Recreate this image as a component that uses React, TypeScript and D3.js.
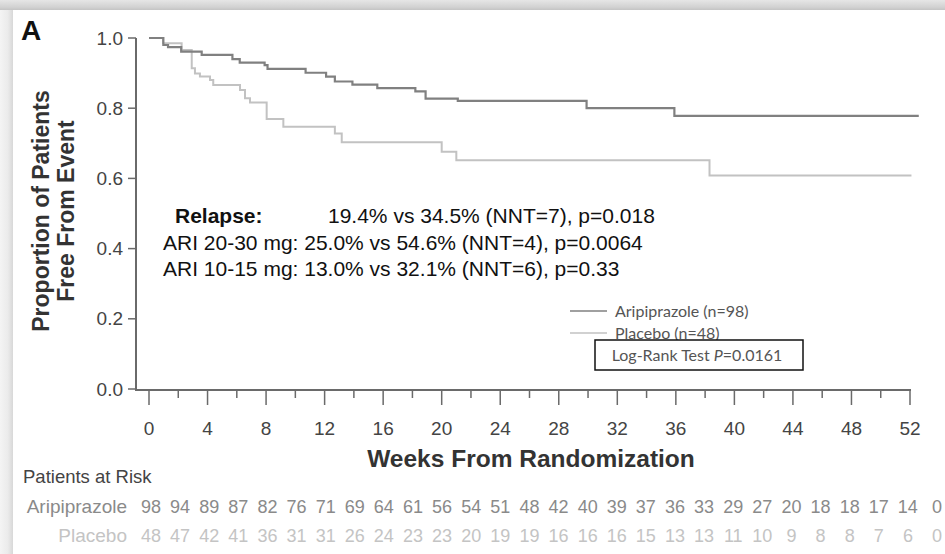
import React from "react";
import * as d3 from "d3";

const ariTimes = [0, 0.98, 1.3, 2.2, 3.6, 5.7, 6.2, 7.9, 8.1, 10.7, 12.1, 12.7, 13.9, 15.6, 18.2, 18.9, 21.1, 29.9, 35.9, 52.6];
const ariSurv = [1.0, 0.98, 0.974, 0.961, 0.952, 0.94, 0.93, 0.923, 0.912, 0.901, 0.89, 0.876, 0.867, 0.857, 0.848, 0.827, 0.821, 0.8, 0.778, 0.778];
const plaTimes = [0, 0.96, 2.23, 2.92, 3.14, 3.48, 4.17, 4.39, 6.22, 6.56, 6.9, 8.04, 9.18, 12.7, 13.17, 20.0, 21.0, 38.3, 52.1];
const plaSurv = [1.0, 0.985, 0.966, 0.914, 0.899, 0.89, 0.88, 0.866, 0.852, 0.828, 0.816, 0.769, 0.747, 0.728, 0.703, 0.676, 0.652, 0.608, 0.608];

const xTicks = d3.range(0, 53, 4);
const xMinorTicks = d3.range(0, 53, 2);
const yTicks = [0, 0.2, 0.4, 0.6, 0.8, 1.0];

const ariRisk = [98, 94, 89, 87, 82, 76, 71, 69, 64, 61, 56, 54, 51, 48, 42, 40, 39, 37, 36, 33, 29, 27, 20, 18, 18, 17, 14, 0];
const plaRisk = [48, 47, 42, 41, 36, 31, 31, 26, 24, 23, 23, 20, 19, 19, 16, 16, 16, 15, 13, 13, 11, 10, 9, 8, 8, 7, 6, 0];

const annotations = [
  { bold: "Relapse:", rest: "19.4% vs 34.5% (NNT=7), p=0.018" },
  { bold: "", rest: "ARI 20-30 mg: 25.0% vs 54.6% (NNT=4), p=0.0064" },
  { bold: "", rest: "ARI 10-15 mg: 13.0% vs 32.1% (NNT=6), p=0.33" },
];

const W = 945;
const H = 554;
const FONT = "'Liberation Sans', Arial, Helvetica, sans-serif";
const LEG_FONT = "Lato, 'Open Sans', sans-serif";

export default function App() {
  const x = d3.scaleLinear().domain([0, 52]).range([149, 910]);
  const y = d3.scaleLinear().domain([0, 1]).range([389, 38]);
  const line = d3
    .line<[number, number]>()
    .x((d) => x(d[0]))
    .y((d) => y(d[1]))
    .curve(d3.curveStepAfter);
  const ariPts = ariTimes.map((t, i) => [t, ariSurv[i]] as [number, number]);
  const plaPts = plaTimes.map((t, i) => [t, plaSurv[i]] as [number, number]);
  const riskX = d3.scalePoint<number>().domain(d3.range(ariRisk.length)).range([151, 937]);

  const axisColor = "#6a6a6a";
  const ariRiskColor = "#8a8a8a";
  const plaRiskColor = "#c4c4c4";
  return (
    <svg width={W} height={H} style={{ position: "absolute", left: 0, top: 0 }} fontFamily={FONT}>
      <defs>
        <linearGradient id="topShadow" x1="0" y1="0" x2="0" y2="1">
          <stop offset="0" stopColor="#e6e6e6" />
          <stop offset="0.7" stopColor="#d2d2d2" />
          <stop offset="1" stopColor="#c4c4c4" />
        </linearGradient>
        <linearGradient id="leftShadow" x1="0" y1="0" x2="1" y2="0">
          <stop offset="0" stopColor="#f4f4f4" />
          <stop offset="0.6" stopColor="#ebebeb" />
          <stop offset="1" stopColor="#d8d8d8" />
        </linearGradient>
      </defs>
      <rect x={0} y={0} width={W} height={H} fill="#fff" />
      <rect x={0} y={0} width={13} height={H} fill="url(#leftShadow)" />
      <rect x={0} y={0} width={W} height={10} fill="url(#topShadow)" />

      <text x={21} y={40} fontSize={28} fontWeight="bold" fill="#111">A</text>

      {/* y axis */}
      <line x1={136} x2={136} y1={y(1)} y2={y(0) + 1} stroke={axisColor} strokeWidth={2} />
      {yTicks.map((t) => (
        <g key={t}>
          <line x1={128} x2={136} y1={y(t)} y2={y(t)} stroke={axisColor} strokeWidth={1.5} />
          <text x={123} y={y(t) + 6.5} fontSize={19} fill="#444" textAnchor="end">
            {t.toFixed(1)}
          </text>
        </g>
      ))}
      <g transform="translate(0,211) rotate(-90)">
        <text x={0} y={49} fontSize={23} fontWeight="bold" fill="#333" textAnchor="middle">
          Proportion of Patients
        </text>
        <text x={0} y={74} fontSize={23} fontWeight="bold" fill="#333" textAnchor="middle">
          Free From Event
        </text>
      </g>

      {/* x axis */}
      <line x1={135} x2={x(52) + 1} y1={390} y2={390} stroke={axisColor} strokeWidth={2} />
      {xMinorTicks.map((t) => (
        <line key={"m" + t} x1={x(t)} x2={x(t)} y1={390} y2={t % 4 === 0 ? 405 : 398} stroke={axisColor} strokeWidth={1.5} />
      ))}
      {xTicks.map((t) => (
        <text key={"l" + t} x={x(t)} y={435} fontSize={19} fill="#444" textAnchor="middle">
          {t}
        </text>
      ))}
      <text x={531} y={467} fontSize={24.5} fontWeight="bold" fill="#333" textAnchor="middle">
        Weeks From Randomization
      </text>

      {/* curves */}
      <path d={line(plaPts) || ""} fill="none" stroke="#c2c2c2" strokeWidth={2} />
      <path d={line(ariPts) || ""} fill="none" stroke="#808080" strokeWidth={2.2} />

      {/* annotations */}
      <text x={175} y={223} fontSize={21} fill="#111" fontWeight="bold">{annotations[0].bold}</text>
      <text x={328} y={223} fontSize={21} fill="#111">{annotations[0].rest}</text>
      <text x={163} y={250} fontSize={21} fill="#111">{annotations[1].rest}</text>
      <text x={163} y={276} fontSize={21} fill="#111">{annotations[2].rest}</text>

      {/* legend */}
      <line x1={570} x2={607} y1={311} y2={311} stroke="#808080" strokeWidth={1.5} />
      <text x={615} y={316.5} fontSize={16} fontFamily={LEG_FONT} fill="#555">Aripiprazole (n=98)</text>
      <line x1={570} x2={607} y1={333} y2={333} stroke="#c2c2c2" strokeWidth={1.5} />
      <text x={615} y={338.5} fontSize={16} fontFamily={LEG_FONT} fill="#555">Placebo (n=48)</text>
      <rect x={595} y={340} width={208} height={30} fill="#fff" stroke="#111" strokeWidth={1.5} />
      <text x={697} y={361} fontSize={16} fontFamily={LEG_FONT} fill="#555" textAnchor="middle">
        Log-Rank Test <tspan fontStyle="italic">P</tspan>=0.0161
      </text>

      {/* risk table */}
      <text x={23} y={483} fontSize={18.5} fill="#444">Patients at Risk</text>
      <text x={127} y={513} fontSize={19} fill={ariRiskColor} textAnchor="end">Aripiprazole</text>
      <text x={127} y={542} fontSize={19} fill={plaRiskColor} textAnchor="end">Placebo</text>
      {ariRisk.map((v, i) => (
        <text key={"a" + i} x={riskX(i)} y={513} fontSize={18} fill={ariRiskColor} textAnchor="middle">{v}</text>
      ))}
      {plaRisk.map((v, i) => (
        <text key={"p" + i} x={riskX(i)} y={542} fontSize={18} fill={plaRiskColor} textAnchor="middle">{v}</text>
      ))}
    </svg>
  );
}
